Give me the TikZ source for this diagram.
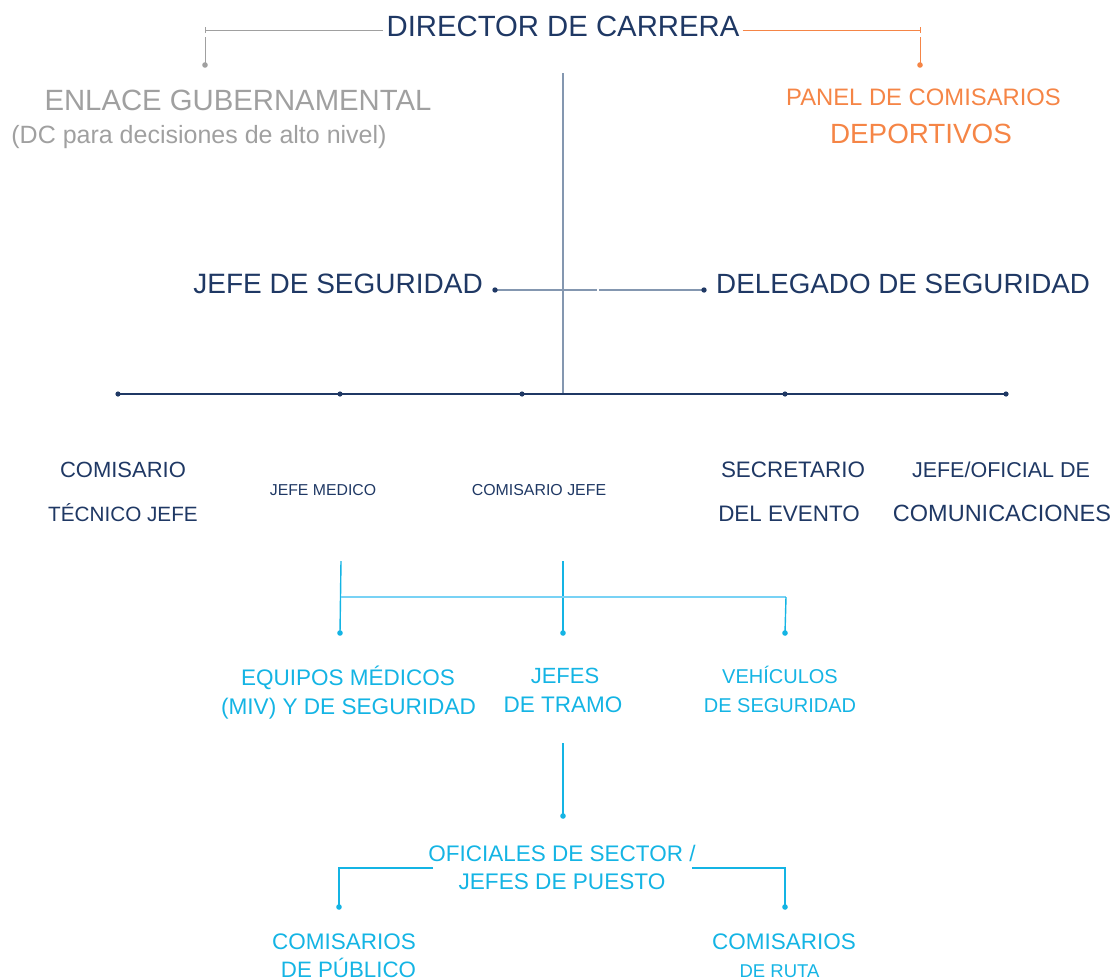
\documentclass[tikz,border=0pt]{standalone}
\usepackage{fontspec}
\setmainfont{Liberation Sans}
\definecolor{navy}{RGB}{31,56,100}
\definecolor{gtxt}{RGB}{160,160,160}
\definecolor{orng}{RGB}{245,133,70}
\definecolor{cyantxt}{RGB}{20,180,228}
\definecolor{cyanlight}{RGB}{120,210,245}
\definecolor{bluegray}{RGB}{132,151,176}
\newcommand{\fsz}[1]{\fontsize{#1}{#1}\selectfont}
\begin{document}
\begin{tikzpicture}[x=1pt,y=-1pt,
  lbl/.style={inner sep=0pt,anchor=base},
  navytxt/.style={lbl,text=navy},
  graytxt/.style={lbl,text=gtxt},
  orangetxt/.style={lbl,text=orng},
  cyanlbl/.style={lbl,text=cyantxt},
  gline/.style={draw=gtxt,line width=1pt},
  oline/.style={draw=orng,line width=1pt},
  vline/.style={draw=bluegray,line width=1.4pt},
  nline/.style={draw=navy,line width=1.4pt},
  cline/.style={draw=cyantxt,line width=1.4pt},
  clline/.style={draw=cyanlight,line width=1.4pt}
]
\useasboundingbox (0,0) rectangle (1114,980);

% ---- texts ----
\node[navytxt] (dir) at (563,36) {\fsz{29.3}DIRECTOR DE CARRERA};
\node[graytxt] (enl) at (238,110) {\fsz{29.3}ENLACE GUBERNAMENTAL};
\node[graytxt] (dc) at (199,143) {\fsz{25}(DC para decisiones de alto nivel)};
\node[orangetxt] (pan) at (923.5,105) {\fsz{23.8}PANEL DE COMISARIOS};
\node[orangetxt] (dep) at (921,143) {\fsz{27.8}DEPORTIVOS};
\node[navytxt,anchor=base east] (jefe) at (483,293) {\fsz{28}JEFE DE SEGURIDAD};
\node[navytxt,anchor=base west] (del) at (716,293) {\fsz{27.8}DELEGADO DE SEGURIDAD};

\node[navytxt] (ct1) at (123,477) {\fsz{22}COMISARIO};
\node[navytxt] (ct2) at (123,521) {\fsz{20.7}TÉCNICO JEFE};
\node[navytxt] (jm) at (323,495) {\fsz{15.8}JEFE MEDICO};
\node[navytxt] (cj) at (539,495) {\fsz{15.9}COMISARIO JEFE};
\node[navytxt] (se1) at (793,477) {\fsz{22.4}SECRETARIO};
\node[navytxt] (se2) at (789,521) {\fsz{22.4}DEL EVENTO};
\node[navytxt] (co1) at (1001,477) {\fsz{21.5}JEFE/OFICIAL DE};
\node[navytxt] (co2) at (1002,521) {\fsz{23.5}COMUNICACIONES};

\node[cyanlbl] (eq1) at (348,685) {\fsz{22.5}EQUIPOS MÉDICOS};
\node[cyanlbl] (eq2) at (348.5,714) {\fsz{22.6}(MIV) Y DE SEGURIDAD};
\node[cyanlbl] (jt1) at (565,683) {\fsz{22}JEFES};
\node[cyanlbl] (jt2) at (563,712) {\fsz{22.5}DE TRAMO};
\node[cyanlbl] (ve1) at (780,683) {\fsz{20}VEHÍCULOS};
\node[cyanlbl] (ve2) at (780,712) {\fsz{20}DE SEGURIDAD};

\node[cyanlbl] (of1) at (562,861) {\fsz{22.5}OFICIALES DE SECTOR /};
\node[cyanlbl] (of2) at (562,889) {\fsz{22.6}JEFES DE PUESTO};

\node[cyanlbl] (cp1) at (344,949) {\fsz{22.5}COMISARIOS};
\node[cyanlbl] (cp2) at (348.5,977) {\fsz{22.3}DE PÚBLICO};
\node[cyanlbl] (cr1) at (784,949) {\fsz{22.5}COMISARIOS};
\node[cyanlbl] (cr2) at (779.5,977) {\fsz{18.5}DE RUTA};

% ---- coordinates ----
\coordinate (gL) at (205,30);
\coordinate (gV) at (205,37);
\coordinate (gDot) at (205,65);
\coordinate (oR) at (920,30);
\coordinate (oV) at (920,37);
\coordinate (oDot) at (920,65);
\coordinate (vTop) at (563,73);
\coordinate (vBot) at (563,394);
\coordinate (jD) at (495,290);
\coordinate (dD) at (704,290);
\coordinate (gapA) at (597,290);
\coordinate (gapB) at (599,290);
\coordinate (b1) at (118,394);
\coordinate (b2) at (340,394);
\coordinate (b3) at (522,394);
\coordinate (b4) at (785,394);
\coordinate (b5) at (1006,394);
\coordinate (c1t) at (341,561);
\coordinate (c1m) at (341,597);
\coordinate (c1d) at (340,633);
\coordinate (c2t) at (563,561);
\coordinate (c2d) at (563,633);
\coordinate (c3m) at (786,597);
\coordinate (c3d) at (785,633);
\coordinate (t1) at (563,743);
\coordinate (t1d) at (563,816);
\coordinate (oL) at (433,868);
\coordinate (oLc) at (339,868);
\coordinate (oLd) at (339,907);
\coordinate (oRr) at (692,868);
\coordinate (oRc) at (785,868);
\coordinate (oRd) at (785,907);

% ---- connectors ----
\draw[gline] (gL) -- ([xshift=-3pt]dir.west |- gL);
\draw[gline] ([yshift=-3pt]gL) -- ([yshift=3pt]gL);
\draw[gline] (gV) -- (gDot);
\draw[oline] ([xshift=3pt]dir.east |- oR) -- (oR);
\draw[oline] ([yshift=-3pt]oR) -- ([yshift=3pt]oR);
\draw[oline] (oV) -- (oDot);
\fill[gtxt] (gDot) circle (2.8pt);
\fill[orng] (oDot) circle (2.8pt);

\draw[vline] (vTop) -- (vBot);
\draw[vline] (jD) -- (gapA);
\draw[vline] (gapB) -- (dD);
\fill[navy] (jD) circle (2.7pt);
\fill[navy] (dD) circle (2.7pt);

\draw[nline] (b1) -- (b5);
\foreach \p in {b1,b2,b3,b4,b5} \fill[navy] (\p) circle (2.6pt);

\draw[cline] (c1t) -- (c1d);
\draw[cline] (c2t) -- (c2d);
\draw[clline] (c1m) -- (c3m);
\draw[cline] (c3m) -- (c3d);
\foreach \p in {c1d,c2d,c3d} \fill[cyantxt] (\p) circle (2.8pt);

\draw[cline] (t1) -- (t1d);
\fill[cyantxt] (t1d) circle (2.8pt);

\draw[cline] (oL) -- (oLc) -- (oLd);
\draw[cline] (oRr) -- (oRc) -- (oRd);
\fill[cyantxt] (oLd) circle (2.8pt);
\fill[cyantxt] (oRd) circle (2.8pt);
\end{tikzpicture}
\end{document}
